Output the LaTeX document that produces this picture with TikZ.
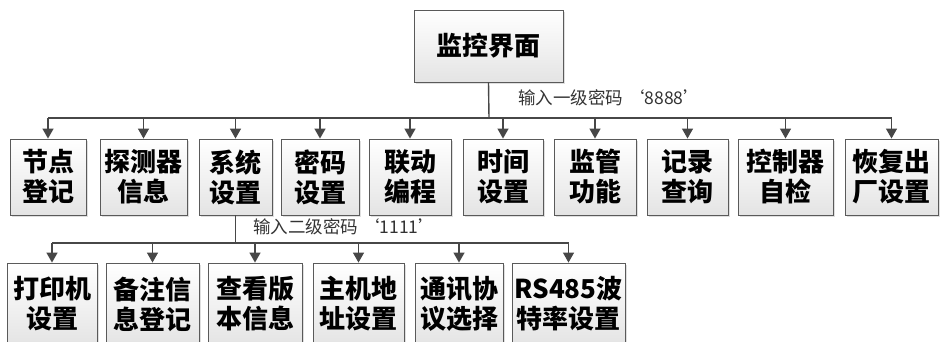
\documentclass[tikz,border=0pt]{standalone}
\usepackage{fontspec}
\setmainfont{Noto Sans CJK SC}
\usetikzlibrary{arrows.meta,shadows}
\definecolor{boxgray}{HTML}{5A5A5A}
\definecolor{boxfill}{HTML}{E4E4E4}
\definecolor{linegray}{HTML}{474747}
\definecolor{pwdgray}{HTML}{333333}
\tikzset{
  menubox/.style={draw=boxgray,line width=0.9pt,top color=white,bottom color=boxfill,
    font=\bfseries\fontsize{26}{30}\selectfont,align=center,inner sep=0pt,
    drop shadow={shadow xshift=2pt,shadow yshift=-2pt,fill=black!25,opacity=0.5}},
  rowtwo/.style={menubox,minimum height=76pt},
  rowthree/.style={menubox,minimum height=82pt,execute at end node={\\[-21pt]\mbox{}}},
  link/.style={draw=linegray,line width=1.4pt},
  linkarrow/.style={link,-{Triangle[length=10pt,width=11pt]}},
  pwd/.style={font=\fontsize{17.5}{20}\selectfont,text=pwdgray,inner sep=0pt,anchor=west}
}
\begin{document}
\begin{tikzpicture}[x=1pt,y=-1pt]
\useasboundingbox (0,0) rectangle (942,341);
% top
\node[menubox,minimum width=149pt,minimum height=72pt] (root) at (488.5,46) {监控界面};
\coordinate (bus1) at (489,118);
\node[pwd] (pwd1) at (518,98) {输入一级密码 ‘8888’};
% first level
\node[rowtwo,minimum width=76pt] (jd) at (48,177) {节点\\登记};
\node[rowtwo,minimum width=87pt] (tcq) at (143.5,177) {探测器\\信息};
\node[rowtwo,minimum width=73pt] (xt) at (235.5,177) {系统\\设置};
\node[rowtwo,minimum width=78pt] (mm) at (320,177) {密码\\设置};
\node[rowtwo,minimum width=82pt] (ld) at (410,177) {联动\\编程};
\node[rowtwo,minimum width=80pt] (sj) at (503,177) {时间\\设置};
\node[rowtwo,minimum width=82pt] (jg) at (595,177) {监管\\功能};
\node[rowtwo,minimum width=81pt] (jl) at (687.5,177) {记录\\查询};
\node[rowtwo,minimum width=95pt] (zj) at (785.5,177) {控制器\\自检};
\node[rowtwo,minimum width=93pt] (hf) at (891.5,177) {恢复出\\厂设置};
\draw[link] (root.south) -- (bus1);
\draw[link] (bus1 -| jd.north) -- (bus1 -| hf.north);
\draw[linkarrow] (bus1 -| jd.north) -- (jd.north);
\draw[linkarrow] (bus1 -| tcq.north) -- (tcq.north);
\draw[linkarrow] (bus1 -| xt.north) -- (xt.north);
\draw[linkarrow] (bus1 -| mm.north) -- (mm.north);
\draw[linkarrow] (bus1 -| ld.north) -- (ld.north);
\draw[linkarrow] (bus1 -| sj.north) -- (sj.north);
\draw[linkarrow] (bus1 -| jg.north) -- (jg.north);
\draw[linkarrow] (bus1 -| jl.north) -- (jl.north);
\draw[linkarrow] (bus1 -| zj.north) -- (zj.north);
\draw[linkarrow] (bus1 -| hf.north) -- (hf.north);
% second level
\coordinate (bus2) at (235.5,243);
\node[pwd] (pwd2) at (253,227) {输入二级密码 ‘1111’};
\node[rowthree,minimum width=90pt] (dy) at (52,304) {打印机\\设置};
\node[rowthree,minimum width=93pt] (bz) at (152.5,304) {备注信\\息登记};
\node[rowthree,minimum width=94pt] (bb) at (255,304) {查看版\\本信息};
\node[rowthree,minimum width=91pt] (dz) at (358.5,304) {主机地\\址设置};
\node[rowthree,minimum width=88pt] (xy) at (459,304) {通讯协\\议选择};
\node[rowthree,minimum width=113pt] (btl) at (568.5,304) {RS485波\\特率设置};
\draw[link] (xt.south) -- (bus2);
\draw[link] (bus2 -| dy.north) -- (bus2 -| btl.north);
\draw[linkarrow] (bus2 -| dy.north) -- (dy.north);
\draw[linkarrow] (bus2 -| bz.north) -- (bz.north);
\draw[linkarrow] (bus2 -| bb.north) -- (bb.north);
\draw[linkarrow] (bus2 -| dz.north) -- (dz.north);
\draw[linkarrow] (bus2 -| xy.north) -- (xy.north);
\draw[linkarrow] (bus2 -| btl.north) -- (btl.north);
\end{tikzpicture}
\end{document}
